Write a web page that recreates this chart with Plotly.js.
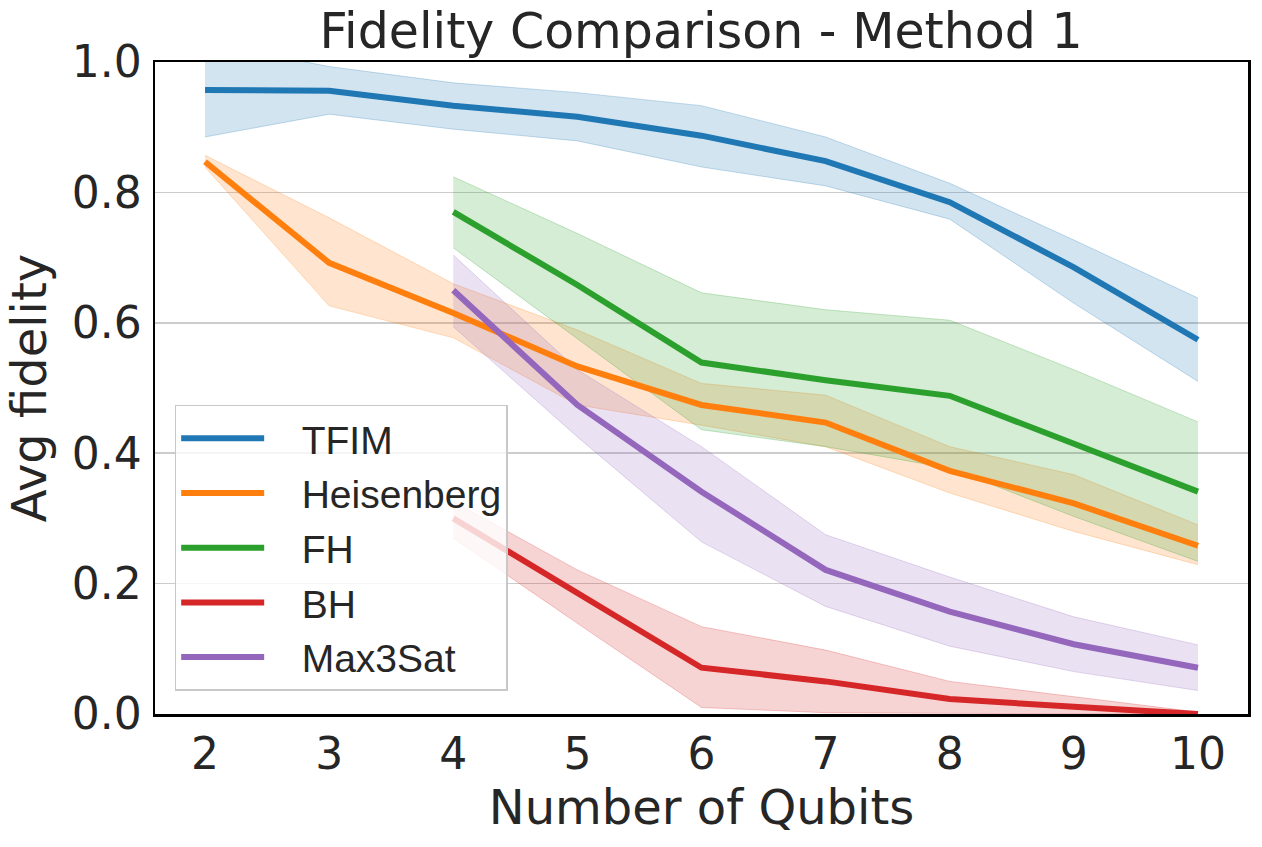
<!DOCTYPE html>
<html>
<head>
<meta charset="utf-8">
<script src="https://cdn.plot.ly/plotly-3.0.1.min.js"></script>
<style>html,body{margin:0;padding:0;background:#fff;}#chart{width:1262px;height:847px;}</style>
</head>
<body>
<div id="chart"></div>
<script>
// Data
const qubitsAll = [2, 3, 4, 5, 6, 7, 8, 9, 10];
const qubitsFrom4 = [4, 5, 6, 7, 8, 9, 10];

const tfimMean  = [0.957, 0.956, 0.933, 0.916, 0.887, 0.848, 0.785, 0.685, 0.574];
const tfimUpper = [1.03, 0.993, 0.968, 0.953, 0.933, 0.885, 0.814, 0.727, 0.638];
const tfimLower = [0.885, 0.920, 0.897, 0.879, 0.839, 0.810, 0.759, 0.630, 0.510];

const heisMean  = [0.847, 0.692, 0.615, 0.533, 0.474, 0.447, 0.373, 0.323, 0.258];
const heisUpper = [0.857, 0.761, 0.660, 0.589, 0.507, 0.489, 0.410, 0.367, 0.290];
const heisLower = [0.839, 0.626, 0.577, 0.474, 0.443, 0.410, 0.339, 0.280, 0.229];

const fhMean  = [0.770, 0.658, 0.539, 0.512, 0.488, 0.415, 0.341];
const fhUpper = [0.824, 0.737, 0.646, 0.620, 0.604, 0.528, 0.448];
const fhLower = [0.715, 0.575, 0.436, 0.410, 0.377, 0.303, 0.234];

const bhMean  = [0.300, 0.185, 0.071, 0.050, 0.023, 0.011, 0.000];
const bhUpper = [0.326, 0.221, 0.134, 0.098, 0.050, 0.027, 0.003];
const bhLower = [0.270, 0.139, 0.010, 0.002, 0.001, 0.000, 0.000];

const satMean  = [0.650, 0.474, 0.341, 0.221, 0.157, 0.107, 0.071];
const satUpper = [0.704, 0.528, 0.410, 0.275, 0.210, 0.149, 0.106];
const satLower = [0.594, 0.425, 0.264, 0.165, 0.104, 0.065, 0.036];

const seriesNames = ['TFIM', 'Heisenberg', 'FH', 'BH', 'Max3Sat'];
const xTicks = [2, 3, 4, 5, 6, 7, 8, 9, 10];
const yTicks = [0.0, 0.2, 0.4, 0.6, 0.8, 1.0];

const colors = ['31,119,180', '255,127,14', '44,160,44', '214,39,40', '148,103,189'];

const series = [
  {x: qubitsAll, m: tfimMean, u: tfimUpper, l: tfimLower},
  {x: qubitsAll, m: heisMean, u: heisUpper, l: heisLower},
  {x: qubitsFrom4, m: fhMean, u: fhUpper, l: fhLower},
  {x: qubitsFrom4, m: bhMean, u: bhUpper, l: bhLower},
  {x: qubitsFrom4, m: satMean, u: satUpper, l: satLower}
];

const traces = [];
series.forEach((s, i) => {
  const c = colors[i];
  traces.push({
    x: s.x, y: s.l, mode: 'lines', type: 'scatter',
    line: {color: 'rgba(' + c + ',0.25)', width: 1},
    showlegend: false, hoverinfo: 'skip', legendgroup: 'g' + i
  });
  traces.push({
    x: s.x, y: s.u, mode: 'lines', type: 'scatter', fill: 'tonexty',
    fillcolor: 'rgba(' + c + ',0.2)',
    line: {color: 'rgba(' + c + ',0.25)', width: 1},
    showlegend: false, hoverinfo: 'skip', legendgroup: 'g' + i
  });
});
series.forEach((s, i) => {
  traces.push({
    x: s.x, y: s.m, mode: 'lines', type: 'scatter',
    name: '\u00a0\u00a0\u00a0' + seriesNames[i],
    line: {color: 'rgb(' + colors[i] + ')', width: 6},
    legendgroup: 'g' + i
  });
});

const layout = {
  width: 1262, height: 847,
  paper_bgcolor: '#fff', plot_bgcolor: '#fff',
  margin: {l: 155, r: 14, t: 62, b: 133},
  font: {family: 'DejaVu Sans', color: '#262626'},
  title: {
    text: 'Fidelity Comparison - Method 1',
    font: {family: 'DejaVu Sans', size: 49, color: '#262626'},
    x: 0.5555, xanchor: 'center', y: 0.984, yanchor: 'top', yref: 'container'
  },
  xaxis: {
    range: [1.597, 10.403],
    tickvals: xTicks, ticktext: xTicks.map(String),
    showgrid: false, zeroline: false,
    showline: true, mirror: true, linecolor: '#000', linewidth: 2.5,
    ticks: '', ticklabelstandoff: 0,
    tickfont: {family: 'DejaVu Sans', size: 44, color: '#262626'},
    title: {text: 'Number of Qubits', font: {family: 'DejaVu Sans', size: 48, color: '#262626'}, standoff: 4}
  },
  yaxis: {
    range: [0, 1],
    tickvals: yTicks, ticktext: yTicks.map(v => v.toFixed(1)),
    showgrid: true, gridcolor: 'rgba(0,0,0,0.2)', gridwidth: 1.5,
    zeroline: false,
    showline: true, mirror: true, linecolor: '#000', linewidth: 2.5,
    ticks: '', ticklabelstandoff: 2,
    tickfont: {family: 'DejaVu Sans', size: 44, color: '#262626'},
    title: {text: 'Avg fidelity', font: {family: 'DejaVu Sans', size: 48, color: '#262626'}, standoff: 10}
  },
  legend: {
    x: 0.018, y: 0.474, xanchor: 'left', yanchor: 'top',
    bgcolor: 'rgba(255,255,255,0.8)', bordercolor: '#c8c8c8', borderwidth: 1.5,
    font: {family: 'Liberation Sans, Arial', size: 39, color: '#262626'},
    itemwidth: 83, tracegroupgap: 1, traceorder: 'grouped'
  },
  showlegend: true
};

Plotly.newPlot('chart', traces, layout, {displayModeBar: false, staticPlot: true});
</script>
</body>
</html>
